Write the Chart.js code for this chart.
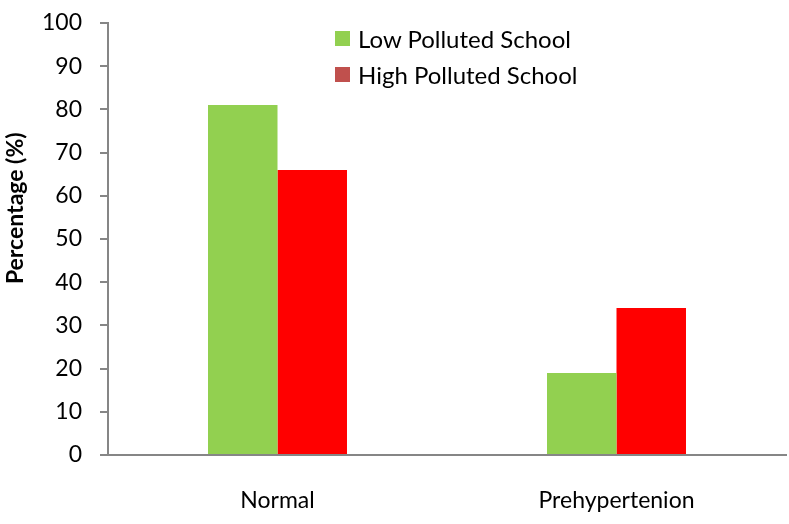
<!DOCTYPE html>
<html>
<head>
<meta charset="utf-8">
<script src="https://cdn.jsdelivr.net/npm/chart.js@4/dist/chart.umd.min.js"></script>
<style>
  html, body { margin: 0; padding: 0; background: #fff; }
  #wrap { position: relative; width: 789px; height: 524px; }
  #legend { position: absolute; left: 335px; top: 20px; font-family: Lato, "Open Sans", sans-serif; font-size: 24px; color: #000; }
  #legend div { display: flex; align-items: center; height: 36px; }
  #legend span.box { display: inline-block; width: 15px; height: 15px; margin-right: 8px; }
</style>
</head>
<body>
<div id="wrap">
  <canvas id="chart" width="789" height="524"></canvas>
  <div id="legend"></div>
</div>
<script>
const categories = ["Normal", "Prehypertenion"]
const lowPolluted = [81, 19]
const highPolluted = [66, 34]
const seriesNames = ["Low Polluted School", "High Polluted School"]
const barColors = ["#92D050", "#FF0000"]
const legendColors = ["#92D050", "#C0504D"]

const axisGray = "#868686"
const font = "Lato, 'Open Sans', sans-serif"

const ctx = document.getElementById("chart")
const chart = new Chart(ctx, {
    type: 'bar',
    data: {
        labels: categories,
        datasets: [
            { label: seriesNames[0], data: lowPolluted, backgroundColor: barColors[0] },
            { label: seriesNames[1], data: highPolluted, backgroundColor: barColors[1] }
        ]
    },
    options: {
        responsive: false,
        animation: false,
        layout: { padding: { left: 0, right: 3, top: 23, bottom: 0 } },
        datasets: { bar: { categoryPercentage: 0.41, barPercentage: 1.0 } },
        plugins: {
            legend: { display: false },
            tooltip: { enabled: false }
        },
        scales: {
            x: {
                grid: { display: false },
                border: { display: true, color: axisGray, width: 2 },
                ticks: { color: "#000", font: { family: font, size: 23 }, padding: 24 },
                afterFit: (s) => { s.height = 69 }
            },
            y: {
                min: 0,
                max: 100,
                ticks: { stepSize: 10, color: "#000", font: { family: font, size: 23 }, padding: 18 },
                grid: { drawOnChartArea: false, drawTicks: true, tickLength: 8, color: axisGray, lineWidth: 2 },
                border: { display: true, color: axisGray, width: 2 },
                title: {
                    display: true,
                    text: "           Percentage (%)",
                    color: "#000",
                    font: { family: font, size: 23, weight: 'bold' },
                    padding: { top: 2, bottom: 0 }
                },
                afterFit: (s) => {
                    s.width = 108
                    // tick padding would otherwise push the plot top down
                    s.paddingTop = 12
                    s.paddingBottom = 12
                }
            }
        }
    }
})

// legend drawn as html, stacked in two rows inside the plot
const legendEl = document.getElementById("legend")
chart.data.datasets.forEach((ds, i) => {
    const row = document.createElement("div")
    row.innerHTML = '<span class="box" style="background:' + legendColors[i] + '"></span>' + ds.label
    legendEl.appendChild(row)
})
</script>
</body>
</html>
